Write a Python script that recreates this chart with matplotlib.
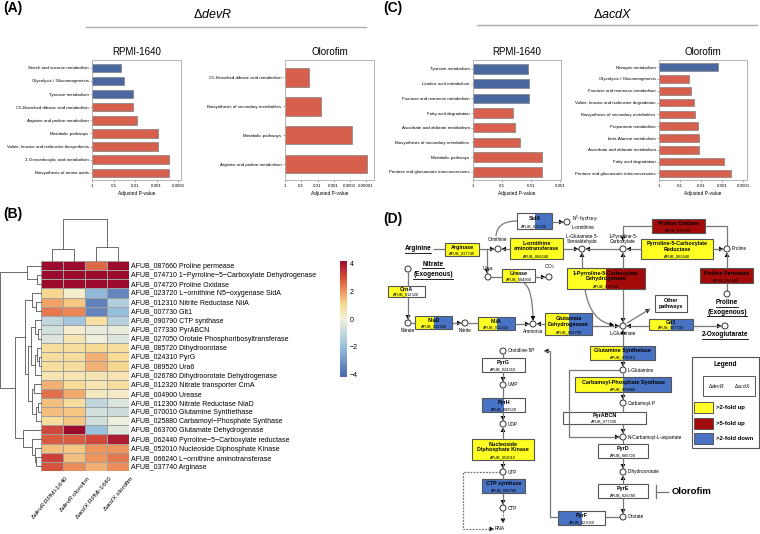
import numpy as np
import matplotlib
matplotlib.use('Agg')
import matplotlib.pyplot as plt
from matplotlib.colors import LinearSegmentedColormap
from matplotlib.patches import Rectangle, Circle, Polygon, PathPatch
from matplotlib.path import Path
from matplotlib.ticker import NullLocator

plt.rcParams['font.family'] = ['Liberation Sans', 'DejaVu Sans']
plt.rcParams['mathtext.fontset'] = 'custom'
plt.rcParams['mathtext.rm'] = 'Liberation Sans'
plt.rcParams['mathtext.it'] = 'Liberation Sans:italic'
plt.rcParams['mathtext.bf'] = 'Liberation Sans:bold'

# ---------------- data: enrichment (A, C) ----------------
devr_rpmi_terms = ['Starch and sucrose metabolism', 'Glycolysis / Gluconeogenesis', 'Tyrosine metabolism',
                   'C5-Branched dibasic acid metabolism', 'Arginine and proline metabolism', 'Metabolic pathways',
                   'Valine, leucine and isoleucine biosynthesis', '2-Oxocarboxylic acid metabolism',
                   'Biosynthesis of amino acids']
devr_rpmi_p = [0.044, 0.035, 0.013, 0.013, 0.008, 0.0009, 0.0009, 0.00027, 0.00027]
devr_rpmi_dir = ['down', 'down', 'down', 'up', 'up', 'up', 'up', 'up', 'up']

devr_olo_terms = ['C5-Branched dibasic acid metabolism', 'Biosynthesis of secondary metabolites',
                  'Metabolic pathways', 'Arginine and proline metabolism']
devr_olo_p = [0.033, 0.0063, 7.9e-5, 8.9e-6]
devr_olo_dir = ['up', 'up', 'up', 'up']

acdx_rpmi_terms = ['Tyrosine metabolism', 'Linoleic acid metabolism', 'Fructose and mannose metabolism',
                   'Fatty acid degradation', 'Ascorbate and aldarate metabolism',
                   'Biosynthesis of secondary metabolites', 'Metabolic pathways',
                   'Pentose and glucuronate interconversions']
acdx_rpmi_p = [0.0126, 0.012, 0.012, 0.042, 0.035, 0.024, 0.0042, 0.0042]
acdx_rpmi_dir = ['down', 'down', 'down', 'up', 'up', 'up', 'up', 'up']

acdx_olo_terms = ['Nitrogen metabolism', 'Glycolysis / Gluconeogenesis', 'Fructose and mannose metabolism',
                  'Valine, leucine and isoleucine degradation', 'Biosynthesis of secondary metabolites',
                  'Propanoate metabolism', 'beta-Alanine metabolism', 'Ascorbate and aldarate metabolism',
                  'Fatty acid degradation', 'Pentose and glucuronate interconversions']
acdx_olo_p = [0.0016, 0.036, 0.032, 0.023, 0.019, 0.014, 0.0125, 0.0125, 0.0008, 0.00036]
acdx_olo_dir = ['down'] + ['up'] * 9

# ---------------- data: heatmap (B) ----------------
genes = ['AFUB_087660 Proline permease', 'AFUB_074710 1\u2212Pyrroline\u22125\u2212Carboxylate Dehydrogenase',
         'AFUB_074720 Proline Oxidase', 'AFUB_023720 L\u2212ornithine N5\u2212oxygenase SidA',
         'AFUB_012310 Nitrite Reductase NiiA', 'AFUB_007730 Glt1', 'AFUB_090790 CTP synthase',
         'AFUB_077330 PyrABCN', 'AFUB_027050 Orotate Phosphoribosyltransferase', 'AFUB_085720 Dihydroorotase',
         'AFUB_024310 PyrG', 'AFUB_089520 Ura6', 'AFUB_026780 Dihydroorotate Dehydrogenase',
         'AFUB_012320 Nitrate transporter CrnA', 'AFUB_004900 Urease', 'AFUB_012300 Nitrate Reductase NiaD',
         'AFUB_070010 Glutamine Synthethase', 'AFUB_025880 Carbamoyl\u2212Phosphate Synthase',
         'AFUB_063700 Glutamate Dehydrogenase', 'AFUB_062440 Pyrroline\u22125\u2212Carboxylate reductase',
         'AFUB_052010 Nucleoside Diphosphate Kinase', 'AFUB_066240 L\u2212ornithine aminotransferase',
         'AFUB_037740 Arginase']
conditions = [r'$\Delta\it{devR}$ RPMI-1640', r'$\Delta\it{devR}$ olorofim',
              r'$\Delta\it{acdX}$ RPMI-1640', r'$\Delta\it{acdX}$ olorofim']
devr_rpmi_lfc = [4.3, 4.3, 4.3, 1.1, 1.8, 2.4, -1.1, -0.7, -0.5, 0.9, 0.9, 0.9, 0.6, 1.6, 2.5, 1.4, 1.4, 0.9,
                 3.1, 2.8, 1.4, 3.2, 2.9]
devr_olo_lfc = [4.3, 4.2, 4.3, 0.2, 1.3, 2.2, -1.7, 0.2, 0.6, 0.9, 0.9, 0.9, 0.6, 1.0, 1.7, 0.9, 1.3, 1.3,
                4.3, 2.8, 1.3, 1.4, 2.1]
acdx_rpmi_lfc = [2.6, 4.3, 4.3, -2.2, -3.5, -3.4, 0.8, -0.2, -0.1, 1.0, 1.6, 1.6, 0.6, 0.6, 0.4, -1.1, -0.7,
                 -0.7, -1.9, 3.1, 2.0, 2.0, 1.6]
acdx_olo_lfc = [4.3, 4.3, 4.3, -3.4, -1.4, -2.0, -1.3, -0.2, -0.5, 0.9, 1.0, 1.1, 0.6, 0.9, 0.3, -0.5, -0.8,
                -0.1, -0.4, 3.8, 2.0, 2.4, 2.1]
# hierarchical clustering merges (child a, child b, height); new clusters numbered after the leaves
row_merges = [(1, 2, 4), (0, 23, 14), (4, 5, 5), (3, 25, 9), (7, 8, 3), (6, 27, 6), (10, 11, 2), (9, 29, 4),
              (30, 12, 6), (15, 16, 3), (32, 17, 5), (13, 14, 7), (34, 33, 9), (28, 31, 10), (36, 35, 13),
              (26, 37, 16), (21, 22, 5), (20, 39, 6), (19, 40, 9), (18, 41, 18), (38, 42, 26), (24, 43, 41)]
col_merges = [(0, 1, 12), (2, 3, 14), (4, 5, 42)]

# ---------------- data: pathway (D) ----------------
enz_names = ['SidA', 'Arginase', 'L-ornithine\naminotransferase', 'Pyrroline-5-Carboxylate\nReductase',
             'Proline Oxidase', '1-Pyrroline-5-Carboxylate\nDehydrogenase', 'Proline Permease', 'Urease', 'CrnA',
             'NiaD', 'NiiA', 'Glutamate\nDehydrogenase', 'Glt1', 'Glutamine Synthetase',
             'Carbamoyl-Phosphate Synthase', 'PyrABCN', 'PyrD', 'PyrE', 'PyrF', 'PyrG', 'PyrH',
             'Nucleoside\nDiphosphate Kinase', 'CTP synthase']
enz_ids = ['AFUB_023720', 'AFUB_037740', 'AFUB_066240', 'AFUB_062440', 'AFUB_074720', 'AFUB_074710',
           'AFUB_087660', 'AFUB_004900', 'AFUB_012320', 'AFUB_012300', 'AFUB_012310', 'AFUB_063700',
           'AFUB_007730', 'AFUB_070010', 'AFUB_025880', 'AFUB_077330', 'AFUB_085720', 'AFUB_026780',
           'AFUB_027050', 'AFUB_024310', 'AFUB_089520', 'AFUB_052010', 'AFUB_090790']
enz_devr = ['none', 'up', 'up', 'up', 'up5', 'up', 'up5', 'up', 'up', 'up', 'up', 'up', 'up', 'up', 'up',
            'none', 'none', 'none', 'down', 'none', 'down', 'up', 'down']
enz_acdx = ['down', 'up', 'up', 'up', 'up5', 'up5', 'up5', 'none', 'none', 'down', 'down', 'down', 'down',
            'down', 'down', 'none', 'none', 'none', 'none', 'none', 'none', 'up', 'down']
legend_labels = ['>2-fold up', '>5-fold up', '>2-fold down']

BLUE, RED = '#4a67a0', '#d6604d'
STATE = {'none': 'white', 'up': '#ffff22', 'up5': '#a50a0a', 'down': '#4872c4'}
W, H = 760, 534

fig = plt.figure(figsize=(7.6, 5.34), dpi=100)


def px_axes(x0, y0, x1, y1):
    return fig.add_axes([x0 / W, 1 - y1 / H, (x1 - x0) / W, (y1 - y0) / H])


def bar_panel(box, title, terms, pvals, dirs, right_exp, ticks):
    ax = px_axes(*box)
    yy = np.arange(len(terms))
    cols = [BLUE if d == 'down' else RED for d in dirs]
    ax.barh(yy, np.asarray(pvals) - 1, left=1, height=0.64, color=cols, edgecolor='#808080', linewidth=0.5)
    ax.set_xscale('log')
    ax.set_xlim(1.03, 10.0 ** -right_exp)
    ax.xaxis.set_minor_locator(NullLocator())
    ax.set_xticks(ticks, [np.format_float_positional(t, trim='-') for t in ticks])
    ax.set_yticks(yy, terms)
    ax.set_ylim(len(terms) - 0.45, -0.6)
    ax.tick_params(axis='y', labelsize=3.2, length=1.5, width=0.4, pad=1, color='#666666')
    ax.tick_params(axis='x', labelsize=3.2, length=1.5, width=0.4, pad=1.5, color='#666666')
    for s in ax.spines.values():
        s.set_color('#aaaaaa')
        s.set_linewidth(0.6)
    ax.set_title(title, fontsize=7, pad=3.5)
    ax.set_xlabel('Adjusted P-value', fontsize=3.5, labelpad=2)
    return ax


dec = [10.0 ** -k for k in range(6)]
bar_panel((92, 60, 181, 180), 'RPMI-1640', devr_rpmi_terms, devr_rpmi_p, devr_rpmi_dir, 4.13, dec[:5])
bar_panel((285, 60, 374, 180), 'Olorofim', devr_olo_terms, devr_olo_p, devr_olo_dir, 5.49, dec[:6])
bar_panel((473, 60, 561, 180), 'RPMI-1640', acdx_rpmi_terms, acdx_rpmi_p, acdx_rpmi_dir, 3.03, dec[:4])
bar_panel((659, 60, 747, 180), 'Olorofim', acdx_olo_terms, acdx_olo_p, acdx_olo_dir, 4.19, dec[:5])

# ---------------- heatmap ----------------
cmap = LinearSegmentedColormap.from_list('hm', [
    (0.0, '#4a66ad'), (2.15 / 8.3, '#97c0dd'), (4.15 / 8.3, '#f2f1dc'), (5.15 / 8.3, '#f8dc94'),
    (6.15 / 8.3, '#ef955c'), (7.15 / 8.3, '#d44e3a'), (1.0, '#9c0a2e')])
vals = np.column_stack([devr_rpmi_lfc, devr_olo_lfc, acdx_rpmi_lfc, acdx_olo_lfc])
hm = px_axes(41, 261, 129, 471)
mesh = hm.pcolormesh(vals, cmap=cmap, vmin=-4.15, vmax=4.15, edgecolors='#a0a0a0', linewidth=0.5)
hm.set_ylim(len(genes), 0)
hm.set_xticks([])
hm.yaxis.tick_right()
hm.set_yticks(np.arange(len(genes)) + 0.5, genes)
hm.tick_params(axis='y', length=0, labelsize=5, pad=1.5)
for s in hm.spines.values():
    s.set_visible(False)

cax = px_axes(340, 261, 347, 377)
cb = fig.colorbar(mesh, cax=cax, ticks=[-4, -2, 0, 2, 4])
cb.outline.set_visible(False)
cax.tick_params(length=0, labelsize=5, pad=2)


def dendro(ax, merges, n, orient):
    pos = {i: i + 0.5 for i in range(n)}
    hgt = {i: 0.0 for i in range(n)}
    for k, (a, b, h) in enumerate(merges):
        if orient == 'left':
            ax.plot([hgt[a], h, h, hgt[b]], [pos[a], pos[a], pos[b], pos[b]], color='#555555', lw=0.6,
                    clip_on=False)
        else:
            ax.plot([pos[a], pos[a], pos[b], pos[b]], [hgt[a], h, h, hgt[b]], color='#555555', lw=0.6,
                    clip_on=False)
        pos[n + k] = (pos[a] + pos[b]) / 2
        hgt[n + k] = h
    ax.axis('off')


rd = px_axes(0, 261, 41, 471)
dendro(rd, row_merges, len(genes), 'left')
rd.set_xlim(41.3, 0)
rd.set_ylim(len(genes), 0)
cd = px_axes(41, 215, 129, 261)
dendro(cd, col_merges, len(conditions), 'top')
cd.set_xlim(0, len(conditions))
cd.set_ylim(0, 46)

# ---------------- overlay: headings and pathway ----------------
ov = fig.add_axes([0, 0, 1, 1])
ov.set_xlim(0, W)
ov.set_ylim(H, 0)
ov.axis('off')
renderer = fig.canvas.get_renderer()

for lab, x, y in [('(A)', 3, 8), ('(C)', 383, 8), ('(B)', 3, 214), ('(D)', 383, 219)]:
    ov.text(x, y, lab, fontsize=10, fontweight='bold', va='center')
ov.text(213, 15, r'$\Delta\it{devR}$', fontsize=9, ha='center', va='center')
ov.text(613, 15, r'$\Delta\it{acdX}$', fontsize=9, ha='center', va='center')
ov.plot([86, 366], [27, 27], color='#aaaaaa', lw=1)
ov.plot([477, 757], [25, 25], color='#aaaaaa', lw=1)

for j, c in enumerate(conditions):
    ov.text(41 + 22 * (j + 0.5) + 12, 474, c, fontsize=4.6, rotation=50, ha='right', va='top',
            rotation_mode='anchor')

LC = '#777777'


def line(pts, ls='-'):
    xs, ys = zip(*pts)
    ov.plot(xs, ys, color=LC, lw=0.9, ls=ls, solid_capstyle='butt')


def head(p0, p1, size=4.5):
    d = np.subtract(p1, p0).astype(float)
    d /= np.hypot(*d)
    nrm = np.array([-d[1], d[0]])
    tip = np.asarray(p1, float)
    base = tip - d * size
    ov.add_patch(Polygon([tip, base + nrm * size * 0.55, base - nrm * size * 0.55], closed=True,
                         color='black', lw=0))


def arrow(pts, ls='-'):
    line(pts, ls)
    head(pts[-2], pts[-1])


def curve(p0, c, p1, tip=True):
    ov.add_patch(PathPatch(Path([p0, c, p1], [Path.MOVETO, Path.CURVE3, Path.CURVE3]), fill=False,
                           edgecolor=LC, lw=0.9))
    if tip:
        head(c, p1)


def met(x, y, label=None, where='right', fs=3.4):
    ov.add_patch(Circle((x, y), 3, facecolor='white', edgecolor='#333333', lw=0.7, zorder=3))
    if label is None:
        return
    if where == 'right':
        ov.text(x + 4.5, y, label, fontsize=fs, va='center', ha='left')
    elif where == 'above':
        ov.text(x, y - 5, label, fontsize=fs, va='bottom', ha='center', linespacing=1.0)
    else:
        ov.text(x, y + 5, label, fontsize=fs, va='top', ha='center')


def uline(x, y, s, fs=4.7):
    t = ov.text(x, y, s, fontsize=fs, fontweight='bold', ha='center', va='center')
    bb = t.get_window_extent(renderer)
    (xa, ya), (xb, yb) = ov.transData.inverted().transform([[bb.x0, bb.y0], [bb.x1, bb.y1]])
    ov.plot([xa, xb], [ya + 0.2, ya + 0.2], color='black', lw=0.6)


enz_boxes = [(517, 213, 552, 229), (445, 243, 479, 256), (510, 238, 563, 259), (641, 239, 713, 259),
             (652, 219, 705, 233), (567, 268, 645, 289), (700, 268, 753, 283), (502, 269, 535, 282),
             (388, 286, 425, 297), (415, 316, 452, 329), (478, 317, 515, 330), (545, 313, 592, 335),
             (649, 319, 693, 330), (590, 346, 655, 360), (575, 377, 671, 392), (563, 412, 646, 424),
             (598, 444, 648, 458), (598, 484, 648, 498), (558, 511, 605, 525), (482, 358, 525, 372),
             (482, 398, 525, 412), (472, 439, 534, 460), (482, 479, 525, 493)]

for i, (x0, y0, x1, y1) in enumerate(enz_boxes):
    xm = (x0 + x1) / 2
    ov.add_patch(Rectangle((x0, y0), xm - x0, y1 - y0, facecolor=STATE[enz_devr[i]], lw=0, zorder=2))
    ov.add_patch(Rectangle((xm, y0), x1 - xm, y1 - y0, facecolor=STATE[enz_acdx[i]], lw=0, zorder=2))
    ov.add_patch(Rectangle((x0, y0), x1 - x0, y1 - y0, fill=False, edgecolor='#555555', lw=0.8, zorder=2))
    ov.text(xm, (y0 + y1 - 5.5) / 2 + 0.3, enz_names[i], fontsize=3.9, fontweight='bold', ha='center',
            va='center', linespacing=1.05, zorder=4)
    ov.text(xm, y1 - 3.0, enz_ids[i], fontsize=2.9, ha='center', va='center', zorder=4)

# other pathways box
ov.add_patch(Rectangle((655, 295), 32, 17, facecolor='white', edgecolor='#555555', lw=0.8))
ov.text(671, 303.5, 'Other\npathways', fontsize=3.9, fontweight='bold', ha='center', va='center',
        linespacing=1.1)

# arginine / proline branch
uline(418, 249, 'Arginine')
line([(433, 249), (445, 249)])
arrow([(479, 249), (494.5, 249)])
arrow([(510, 249), (501.5, 249)])
met(498, 249)
ov.text(498, 242, 'Ornithine', fontsize=3.4, ha='center', va='bottom')
curve((496, 236), (497, 221), (517, 221), tip=False)
arrow([(552, 222), (563.5, 222)])
met(567, 222, 'N$^5$-hydroxy-\nL-ornithine', fs=3.4)
arrow([(563, 249), (578.5, 249)])
arrow([(619.5, 249), (585.5, 249)])
met(582, 249, 'L-Glutamate 5-\nSemialdehyde', 'above')
arrow([(641, 249), (626.5, 249)])
met(623, 249, '1-Pyrroline-5-\nCarboxylate', 'above')
arrow([(713, 249), (723.5, 249)])
met(727, 249, 'Proline')
line([(727, 245.5), (727, 226), (705, 226)])
arrow([(652, 226), (623, 226), (623, 241)])
arrow([(582, 268), (582, 252.5)])
arrow([(623, 268), (623, 252.5)])
arrow([(727, 268), (727, 252.5)])
line([(727, 283), (727, 291)])
met(727, 294)
uline(727, 303, 'Proline')
uline(727, 312, '(Exogenous)')

# urea / nitrogen branch
arrow([(487, 249), (487, 273.5)])
met(488, 277)
ov.text(488, 271, 'Urea', fontsize=3.4, ha='center', va='bottom')
line([(491, 277), (502, 277)])
arrow([(535, 277), (545.5, 277)])
met(549, 277)
ov.text(549, 271, 'CO$_2$', fontsize=3.4, ha='center', va='bottom')
curve((523, 282), (533, 288), (533, 320.5))
met(408, 269)
uline(433, 264, 'Nitrate')
uline(433, 275, '(Exogenous)')
line([(408, 272), (408, 286)])
arrow([(408, 297), (408, 319.5)])
met(408, 323, 'Nitrate', 'below')
line([(411, 323), (415, 323)])
arrow([(452, 323), (461.5, 323)])
met(465, 323, 'Nitrite', 'below')
line([(468, 323), (478, 323)])
arrow([(515, 324), (529.5, 324)])
arrow([(545, 324), (536.5, 324)])
met(533, 324, 'Ammonia', 'below')
arrow([(592, 326), (619.5, 326)])
curve((585, 289), (590, 322), (614, 325))
arrow([(623, 289), (623, 322.5)])
met(623, 326, 'L-Glutamate', 'below')
arrow([(627, 323), (650, 309)])
arrow([(649, 326), (626.5, 326)])
arrow([(693, 326), (721.5, 326)])
met(725, 326)
uline(725, 335, '2-Oxoglutarate')

# pyrimidine branch
arrow([(623, 346), (623, 329.5)])
arrow([(623, 360), (623, 366.5)])
met(623, 370, 'L-Glutamine')
arrow([(619.5, 370), (569, 370), (569, 437), (619.5, 437)])
line([(623, 373), (623, 377)])
arrow([(623, 392), (623, 399.5)])
met(623, 403, 'Carbamoyl-P')
line([(623, 406), (623, 412)])
arrow([(623, 424), (623, 433.5)])
met(623, 437, 'N-Carbamoyl-L-aspartate')
line([(623, 440), (623, 444)])
arrow([(623, 458), (623, 468.5)])
arrow([(623, 484), (623, 475.5)])
met(623, 472, 'Dihydroorotate')
arrow([(623, 498), (623, 513.5)])
met(623, 517, 'Orotate')
line([(619.5, 517), (605, 517)])
arrow([(558, 517), (550, 517), (550, 351), (544, 351)])
met(503, 351, 'Orotidine-5P')
line([(503, 354), (503, 358)])
arrow([(503, 372), (503, 381.5)])
met(503, 385, 'UMP')
line([(503, 388), (503, 398)])
arrow([(503, 412), (503, 420.5)])
arrow([(503, 439), (503, 427.5)])
met(503, 424, 'UDP')
arrow([(503, 460), (503, 468.5)])
met(503, 472, 'UTP')
line([(503, 475), (503, 479)])
arrow([(503, 493), (503, 504.5)])
met(503, 508, 'CTP')
arrow([(503, 511), (503, 523)], ls=(0, (1.5, 1)))
arrow([(499.5, 472), (463, 472), (463, 529), (494, 529)], ls=(0, (1.5, 1)))
ov.text(495, 529, 'RNA', fontsize=3.4, va='center')

# olorofim inhibition
ov.plot([656, 656], [485, 498], color=LC, lw=0.9)
ov.plot([656, 668], [491.5, 491.5], color=LC, lw=0.9)
ov.text(672, 491.5, 'Olorofim', fontsize=6.8, fontweight='bold', va='center')

# legend
ov.add_patch(Rectangle((692, 357), 67, 91, facecolor='white', edgecolor='#555555', lw=0.8))
ov.text(725.5, 365, 'Legend', fontsize=4.8, fontweight='bold', ha='center', va='center')
ov.add_patch(Rectangle((703, 376), 52, 20, facecolor='white', edgecolor='#555555', lw=0.7))
ov.text(716, 386, r'$\Delta\it{devR}$', fontsize=3.5, ha='center', va='center')
ov.text(742, 386, r'$\Delta\it{acdX}$', fontsize=3.5, ha='center', va='center')
for k, (st, lab) in enumerate(zip(['up', 'up5', 'down'], legend_labels)):
    yk = 402 + 15.5 * k
    ov.add_patch(Rectangle((694, yk), 19, 11, facecolor=STATE[st], edgecolor='#555555', lw=0.7))
    ov.text(716, yk + 5.5, lab, fontsize=4.3, fontweight='bold', va='center')

fig.savefig('out.png', dpi=100)
